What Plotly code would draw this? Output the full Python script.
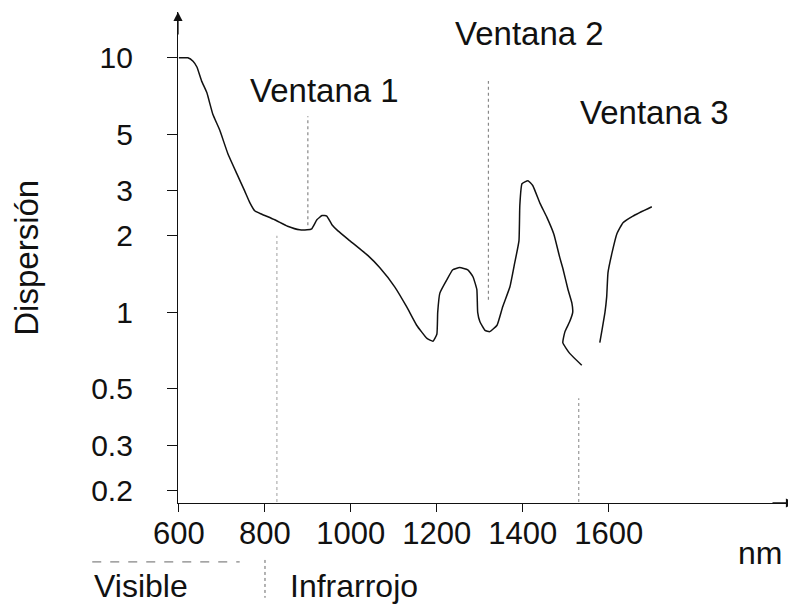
import plotly.graph_objects as go

# ---- data ----
wavelength_nm = [600, 621, 633, 642, 653, 665, 679, 695, 714, 735, 753, 765, 777, 793,
                 823, 853, 881, 898, 909, 921, 933, 944, 956, 970, 998, 1040, 1067,
                 1102, 1130, 1153, 1177, 1191, 1200, 1202, 1207, 1223, 1237, 1253,
                 1272, 1284, 1293, 1295, 1300, 1312, 1323, 1340, 1353, 1370, 1381,
                 1391, 1393, 1398, 1412, 1423, 1440, 1456, 1472, 1486, 1493, 1505,
                 1514, 1516, 1509, 1498, 1493, 1509, 1537,
                 None,
                 1579, 1584, 1591, 1595, 1598, 1607, 1619, 1633, 1656, 1700]
dispersion = [10.0, 10.0, 9.7, 9.2, 8.1, 7.3, 6.0, 5.2, 4.2, 3.5, 3.0, 2.7, 2.5, 2.43,
              2.31, 2.18, 2.11, 2.11, 2.13, 2.31, 2.40, 2.39, 2.21, 2.09, 1.91, 1.67, 1.50,
              1.26, 1.05, 0.89, 0.79, 0.77, 0.82, 1.0, 1.19, 1.34, 1.47, 1.50,
              1.47, 1.38, 1.23, 1.0, 0.92, 0.85, 0.84, 0.89, 1.05, 1.26, 1.56,
              1.91, 2.63, 3.2, 3.29, 3.15, 2.68, 2.36, 2.03, 1.64, 1.49, 1.23,
              1.09, 1.0, 0.92, 0.84, 0.76, 0.69, 0.62,
              None,
              0.76, 0.85, 1.0, 1.15, 1.43, 1.70, 2.04, 2.25, 2.39, 2.60]

# dotted window markers: (wavelength, low value, high value)
window_lines_nm = [900, 828, 1320, 1530]
window_lines_low = [2.2, 0.18, 1.12, 0.18]
window_lines_high = [5.9, 2.0, 8.1, 0.46]
window_lines_color = ["#888888", "#b0b0b0", "#888888", "#999999"]

x_ticks = [600, 800, 1000, 1200, 1400, 1600]
y_ticks = [0.2, 0.3, 0.5, 1, 2, 3, 5, 10]
y_tick_labels = ["0.2", "0.3", "0.5", "1", "2", "3", "5", "10"]

window_labels = ["Ventana 1", "Ventana 2", "Ventana 3"]

FONT = "Liberation Sans, Arial, Helvetica, sans-serif"
INK = "#111111"

fig = go.Figure()

for wx, lo, hi, col in zip(window_lines_nm, window_lines_low, window_lines_high, window_lines_color):
    fig.add_trace(go.Scatter(x=[wx, wx], y=[lo, hi], mode="lines",
                             line=dict(color=col, width=1.2, dash="dot"),
                             hoverinfo="skip", showlegend=False))

fig.add_trace(go.Scatter(x=wavelength_nm, y=dispersion, mode="lines",
                         line=dict(color=INK, width=1.5, shape="spline", smoothing=0.4),
                         connectgaps=False, showlegend=False))

# The page body has an 8px default margin, so the figure is 8px smaller than the window.
fig.update_layout(
    width=788, height=600,
    margin=dict(l=170, r=1, t=4, b=105),
    paper_bgcolor="white", plot_bgcolor="white",
    font=dict(family=FONT, color=INK),
    showlegend=False,
    xaxis=dict(range=[598, 2033], tickvals=x_ticks, ticktext=[str(v) for v in x_ticks],
               automargin=False,
               showgrid=False, zeroline=False, showline=True, linecolor=INK, linewidth=1.3,
               ticks="outside", ticklen=8, tickcolor=INK, tickwidth=1,
               ticklabelstandoff=-5,
               tickfont=dict(size=31, family=FONT, color=INK)),
    yaxis=dict(type="log", range=[-0.749, 1.180], tickvals=y_ticks, ticktext=y_tick_labels,
               automargin=False,
               showgrid=False, zeroline=False, showline=True, linecolor=INK, linewidth=1.3,
               ticks="outside", ticklen=10, tickcolor=INK, tickwidth=1,
               ticklabelstandoff=28,
               tickfont=dict(size=30, family=FONT, color=INK)),
)


def label(txt, x, y, xanchor="center", size=33, angle=0):
    fig.add_annotation(text=txt, x=x, y=y, xref="paper", yref="paper",
                       xanchor=xanchor, yanchor="middle", textangle=angle,
                       showarrow=False, font=dict(size=size, family=FONT, color=INK))


# window labels
for txt, px, py in zip(window_labels, [0.238, 0.569, 0.773], [0.841, 0.957, 0.796]):
    label(txt, px, py)

label("nm", 0.943, -0.102, size=32)
label("Visible", -0.139, -0.169, xanchor="left", size=32)
label("Infrarrojo", 0.178, -0.169, xanchor="left", size=32)
label("Dispersión", -0.246, 0.5, size=33, angle=-90)

# axis arrows
fig.add_annotation(x=0, y=1, xref="paper", yref="paper", ax=0, ay=24, text="",
                   showarrow=True, arrowhead=2, arrowsize=1.4, arrowwidth=1.3, arrowcolor=INK)
fig.add_annotation(x=1, y=0, xref="paper", yref="paper", ax=-24, ay=0, text="",
                   showarrow=True, arrowhead=2, arrowsize=1.4, arrowwidth=1.3, arrowcolor=INK)

# Visible / Infrarrojo separators
fig.add_shape(type="line", xref="paper", yref="paper", x0=-0.139, x1=0.100, y0=-0.120, y1=-0.120,
              line=dict(color="#666666", width=1, dash="dash"))
fig.add_shape(type="line", xref="paper", yref="paper", x0=0.141, x1=0.141, y0=-0.116, y1=-0.193,
              line=dict(color="#666666", width=1, dash="dot"))

fig.write_html("out.html")
